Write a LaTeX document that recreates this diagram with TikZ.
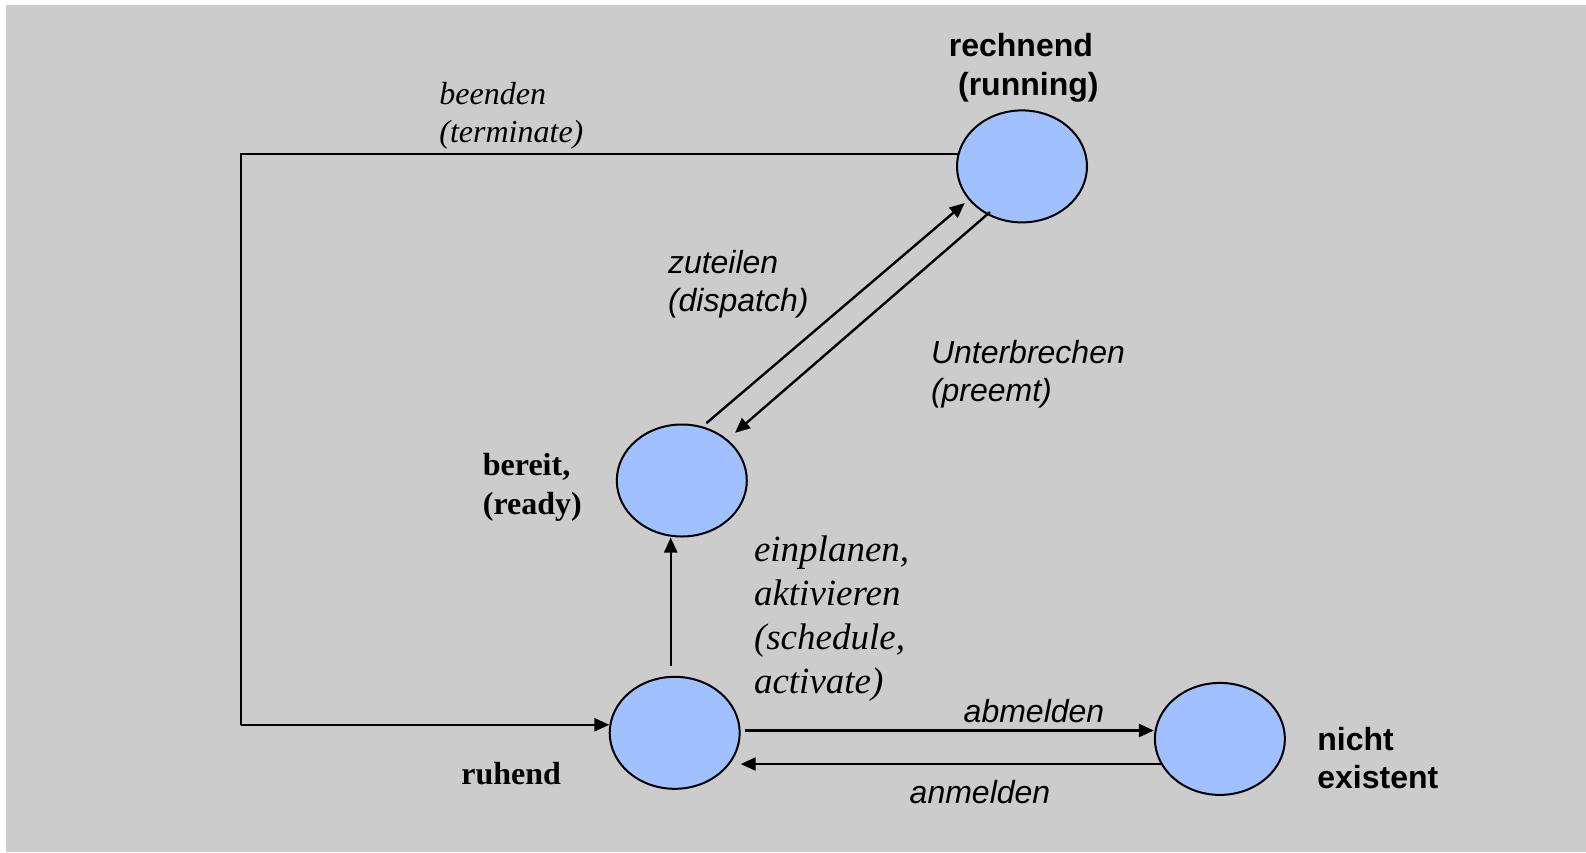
\documentclass[tikz,border=0pt]{standalone}
\usepackage{fontspec}
\setmainfont{Liberation Serif}
\setsansfont{Liberation Sans}
\usetikzlibrary{shapes.geometric,arrows.meta}
\definecolor{statefill}{RGB}{160,192,255}
\definecolor{bggray}{RGB}{204,204,204}
\begin{document}
\begin{tikzpicture}[x=0.5pt, y=-0.5pt]
  \tikzstyle{statebox}=[draw, ellipse, line width=1pt, fill=statefill, minimum width=65pt, minimum height=56pt, inner sep=0pt]
  \tikzstyle{conn}=[line width=1.2pt, -{Triangle[length=7.5pt, width=6.5pt]}]
  \tikzstyle{actsans}=[inner sep=0pt, align=left, font=\sffamily\itshape\fontsize{16}{19.2}\selectfont]
  \tikzstyle{actserif}=[inner sep=0pt, align=left, font=\rmfamily\itshape\fontsize{16}{19.2}\selectfont]
  \tikzstyle{statesans}=[inner sep=0pt, align=left, font=\sffamily\bfseries\fontsize{16}{19.2}\selectfont]
  \tikzstyle{stateserif}=[inner sep=0pt, align=left, font=\rmfamily\bfseries\fontsize{16}{19.2}\selectfont]

  \useasboundingbox (0, 0) rectangle (1586, 852);
  \fill[white] (0, 0) rectangle (1586, 852);
  \fill[bggray] (6, 5) rectangle (1586, 852);

  % states
  \node[statebox] (run) at (1022, 166.4) {};
  \node[statebox] (ber) at (681.8, 480.5) {};
  \node[statebox] (ruh) at (674.7, 732.8) {};
  \node[statebox] (nic) at (1219.9, 738.9) {};

  % transitions
  \coordinate (bl) at (240.7, 725);
  \draw[conn] (run.169) -| (bl) |- (ruh.173);
  \draw[conn, shorten <=2.5pt, shorten >=2.5pt] (ber.69) -- (run.212);
  \draw[conn, shorten <=-2pt, shorten >=5pt] (run.234) -- (ber.42);
  \draw[conn, shorten <=5pt] (ruh.94) -- (ruh.94 |- ber.south);
  \draw[conn, shorten <=2pt] (ruh.2) -- (ruh.2 -| nic.west);
  \draw[conn] (nic.203) -- (nic.203 -| ruh.east);

  % labels
  \node[statesans, anchor=north west] (lrun) at (948.5, 33.4) {rechnend\\\hspace*{4.6pt}(running)};
  \node[stateserif, anchor=north west] (lber) at (482.5, 453) {bereit,\\(ready)};
  \node[stateserif, anchor=north west] (lruh) at (461, 761.7) {ruhend};
  \node[statesans, anchor=north west] (lnic) at (1317, 727) {nicht\\existent};

  \node[actserif, anchor=north west] (lbeenden) at (439, 81.7) {beenden\\(terminate)};
  \node[actsans, anchor=north west] (lzuteilen) at (667.6, 250) {zuteilen\\(dispatch)};
  \node[actsans, anchor=north west] (lunterbr) at (930.6, 340) {Unterbrechen\\(preemt)};
  \node[actserif, anchor=north west, font=\rmfamily\itshape\fontsize{18.5}{22}\selectfont] (leinpl) at (753.6, 535) {einplanen,\\aktivieren\\(schedule,\\activate)};
  \node[actsans, anchor=north] (labm) at (1034, 699) {abmelden};
  \node[actsans, anchor=north] (lanm) at (980, 780) {anmelden};
\end{tikzpicture}
\end{document}
